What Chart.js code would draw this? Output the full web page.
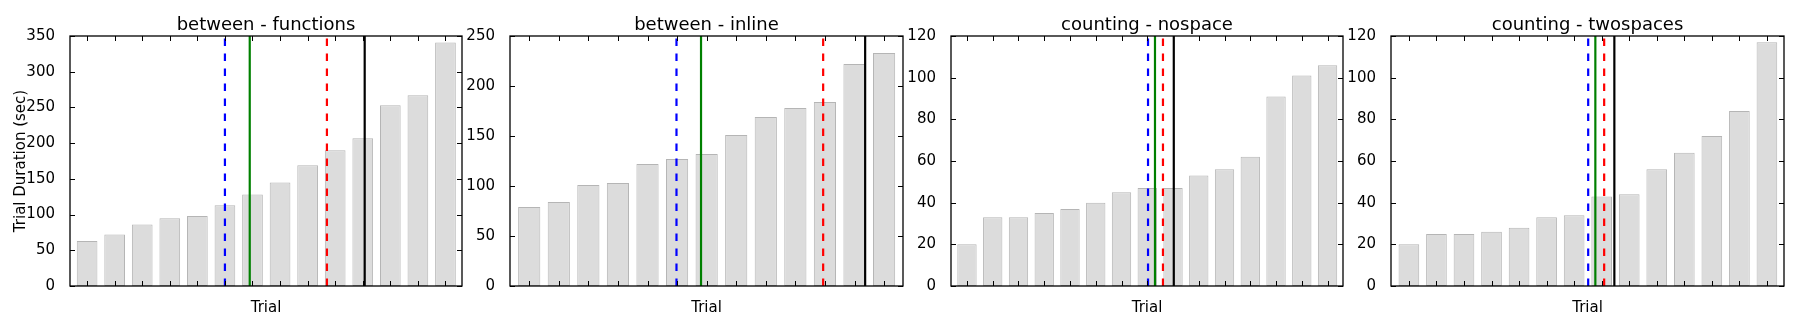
<!DOCTYPE html>
<html>
<head>
<meta charset="utf-8">
<script src="https://cdn.jsdelivr.net/npm/chart.js@4.4.1/dist/chart.umd.min.js"></script>
<style>
  html, body { margin: 0; padding: 0; background: #ffffff; }
  body { width: 1800px; height: 332px; position: relative; overflow: hidden; }
  canvas { position: absolute; top: 0; }
</style>
</head>
<body>
<canvas id="c0"></canvas>
<canvas id="c1"></canvas>
<canvas id="c2"></canvas>
<canvas id="c3"></canvas>
<script>
// ---------------- data ----------------
const panelTitles = ['between - functions', 'between - inline', 'counting - nospace', 'counting - twospaces'];

const betweenFunctions = [63, 72, 86, 95, 98, 113, 128, 145, 169, 190, 207, 253, 267, 341];
const betweenInline    = [79, 84, 101, 103, 122, 127, 132, 151, 169, 178, 184, 222, 233];
const countingNospace  = [20, 33, 33, 35, 37, 40, 45, 47, 47, 53, 56, 62, 91, 101, 106];
const countingTwospaces = [20, 25, 25, 26, 28, 33, 34, 43, 44, 56, 64, 72, 84, 117];

// vertical marker positions (in trial-index units), one per panel
const blueDashed  = [5.00, 4.98, 7.03, 6.51];
const greenSolid  = [5.90, 5.81, 7.30, 6.77];
const redDashed   = [8.70, 9.94, 7.61, 7.09];
const blackSolid  = [10.07, 11.36, 8.03, 7.46];

// y-axis ticks
const yMaxTicks  = [350, 250, 120, 120];
const yStepTicks = [50, 50, 20, 20];

const xLabel = 'Trial';
const yLabel = 'Trial Duration (sec)';

// ---------------- layout / style ----------------
const seriesList = [betweenFunctions, betweenInline, countingNospace, countingTwospaces];
const xLimLo = [-0.62, -0.65, -0.62, -0.65];
const xLimHiPad = [0.60, 0.64, 0.60, 0.62];
const plotLeft = [70, 510, 951, 1391];
const plotWidth = [392, 393, 392, 393];
const yAxisW = [70, 60, 60, 60];
const PAD_R = 8;
const FONT = '"DejaVu Sans", "Liberation Sans", sans-serif';
const TICK = 5;

const framePlugin = {
  id: 'mplFrame',
  afterDatasetsDraw(chart) {
    const {ctx, chartArea: a} = chart;
    const x = chart.scales.x, y = chart.scales.y;
    ctx.save();
    ctx.strokeStyle = '#000';
    ctx.lineWidth = 1;
    ctx.beginPath();
    for (const t of x.ticks) {
      const px = Math.round(x.getPixelForValue(t.value)) + 0.5;
      ctx.moveTo(px, a.top); ctx.lineTo(px, a.top + TICK);
      ctx.moveTo(px, a.bottom); ctx.lineTo(px, a.bottom - TICK);
    }
    for (const t of y.ticks) {
      const py = Math.round(y.getPixelForValue(t.value)) + 0.5;
      ctx.moveTo(a.left, py); ctx.lineTo(a.left + TICK, py);
      ctx.moveTo(a.right, py); ctx.lineTo(a.right - TICK, py);
    }
    ctx.stroke();
    ctx.lineWidth = 1.3;
    ctx.strokeRect(a.left, a.top, a.right - a.left, a.bottom - a.top);
    ctx.restore();
  }
};

function vline(xv, ymax, color, dashed) {
  return {
    type: 'line',
    data: [{x: xv, y: 0}, {x: xv, y: ymax}],
    borderColor: color,
    borderWidth: 2.2,
    borderDash: dashed ? [7.5, 7.5] : [],
    borderCapStyle: 'butt',
    pointRadius: 0,
    fill: false,
    tension: 0,
    order: 1
  };
}

seriesList.forEach((vals, p) => {
  const canvas = document.getElementById('c' + p);
  const w = yAxisW[p] + plotWidth[p] + PAD_R;
  canvas.width = w;
  canvas.height = 332;
  canvas.style.left = (plotLeft[p] - yAxisW[p]) + 'px';
  canvas.style.width = w + 'px';
  canvas.style.height = '332px';
  const ymax = yMaxTicks[p];

  new Chart(canvas.getContext('2d'), {
    type: 'bar',
    data: {
      datasets: [
        vline(blueDashed[p], ymax, '#0000ff', true),
        vline(greenSolid[p], ymax, '#008000', false),
        vline(redDashed[p], ymax, '#ff0000', true),
        vline(blackSolid[p], ymax, '#000000', false),
        {
          type: 'bar',
          data: vals.map((v, i) => ({x: i, y: v})),
          backgroundColor: '#dcdcdc',
          borderColor: '#b5b5b5',
          borderWidth: 1,
          borderSkipped: false,
          barPercentage: 0.75,
          categoryPercentage: 1.0,
          order: 2
        }
      ]
    },
    options: {
      responsive: false,
      animation: false,
      devicePixelRatio: 1,
      layout: { padding: { left: 0, right: PAD_R, top: 0, bottom: 0 } },
      plugins: {
        legend: { display: false },
        tooltip: { enabled: false },
        title: {
          display: true,
          text: panelTitles[p],
          fullSize: false,
          color: '#000',
          font: { family: FONT, size: 18, weight: 'normal' },
          padding: { top: 14.4, bottom: 0 }
        }
      },
      scales: {
        x: {
          type: 'linear',
          offset: false,
          min: xLimLo[p],
          max: vals.length - 1 + xLimHiPad[p],
          grid: { display: false },
          border: { display: false },
          ticks: { display: false, stepSize: 1, includeBounds: false },
          title: {
            display: true,
            text: xLabel,
            color: '#000',
            font: { family: FONT, size: 15 },
            padding: { top: 0, bottom: 14.5 }
          },
          afterFit(scale) { scale.height = 46; }
        },
        y: {
          type: 'linear',
          min: 0,
          max: ymax,
          grid: { display: false },
          border: { display: false },
          ticks: {
            stepSize: yStepTicks[p],
            color: '#000',
            padding: 7,
            font: { family: FONT, size: 15 }
          },
          title: {
            display: p === 0,
            text: yLabel,
            color: '#000',
            font: { family: FONT, size: 15 },
            padding: { top: 12.5, bottom: 0 }
          },
          afterFit(scale) { scale.width = yAxisW[p]; }
        }
      }
    },
    plugins: [framePlugin]
  });
});
</script>
</body>
</html>
